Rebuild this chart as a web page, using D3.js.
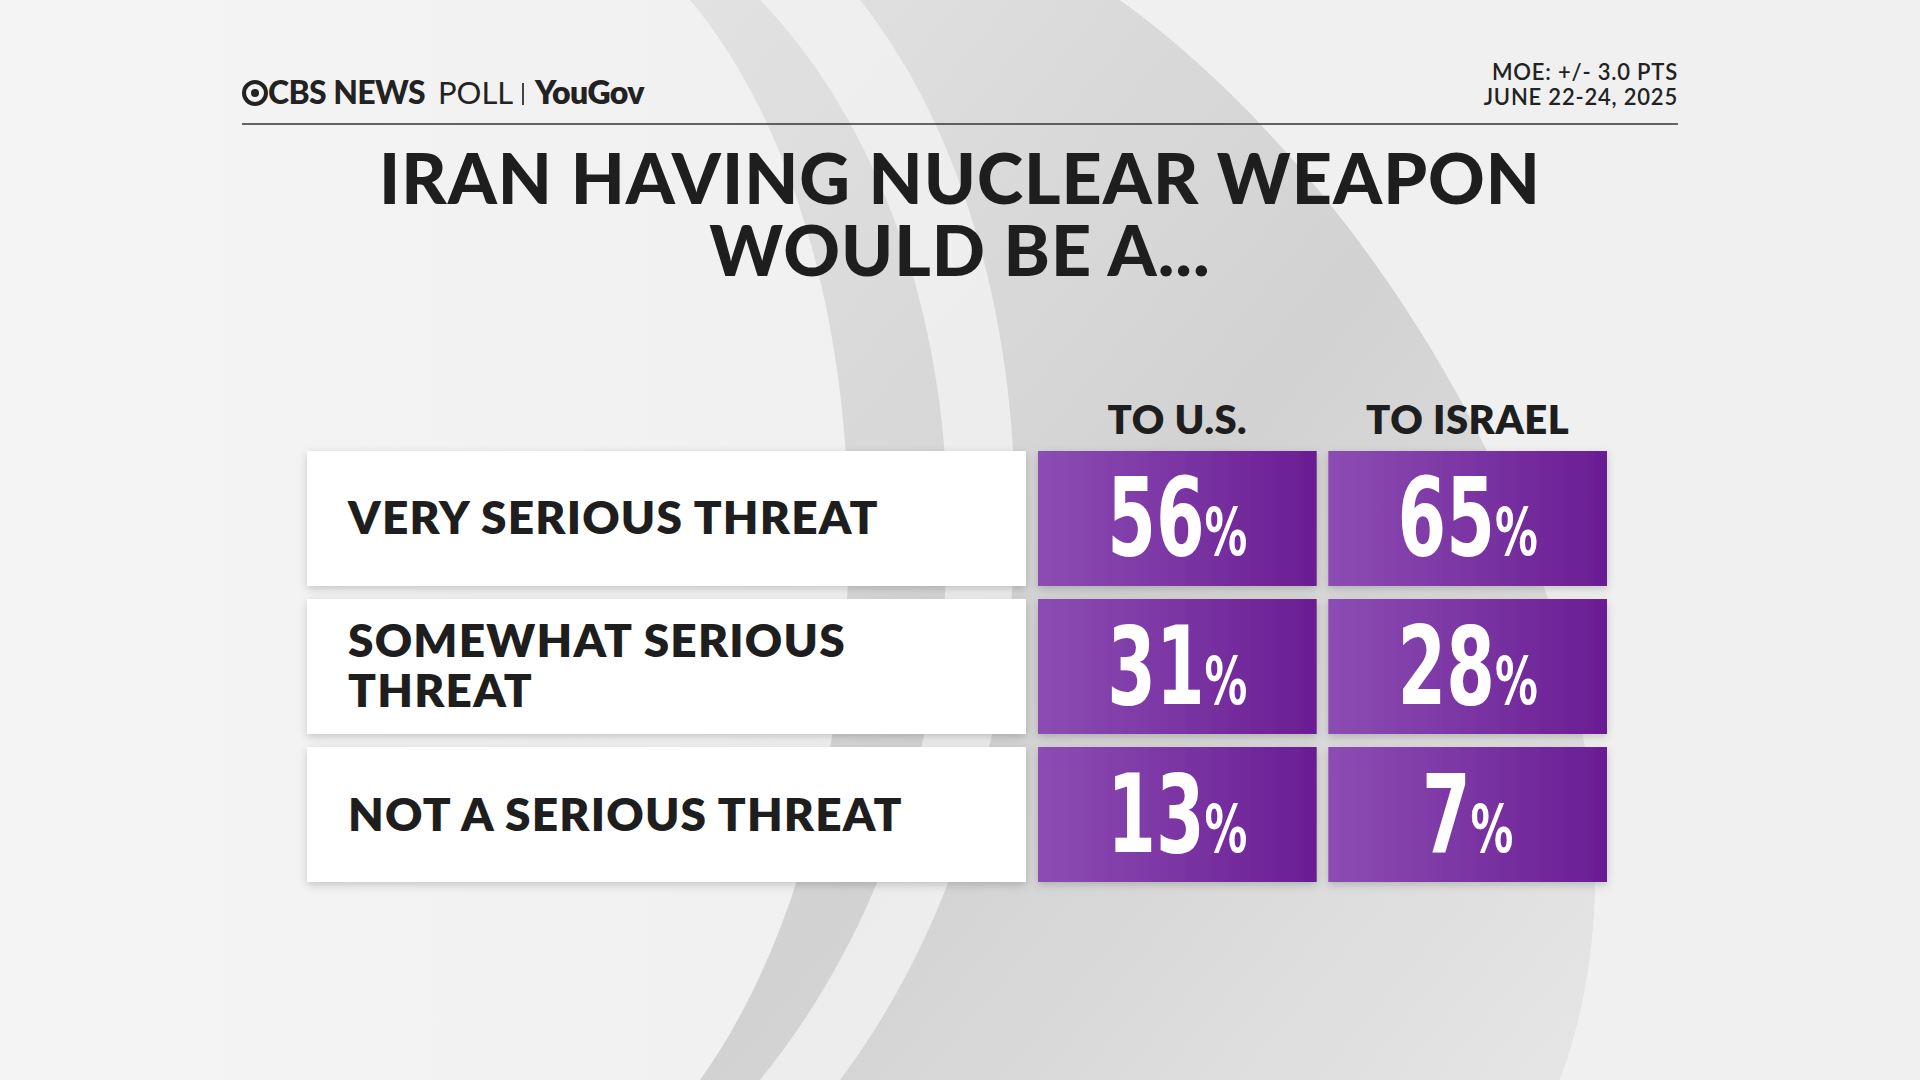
<!DOCTYPE html>
<html><head><meta charset="utf-8">
<script src="https://cdn.jsdelivr.net/npm/d3@7"></script>
<style>body{margin:0;background:#efefef;overflow:hidden}</style>
</head><body><svg id="c"></svg>
<script>
const rows = ['VERY SERIOUS THREAT', 'SOMEWHAT SERIOUS|THREAT', 'NOT A SERIOUS THREAT']
const columns = ['TO U.S.', 'TO ISRAEL']
const toUS = [56, 31, 13]
const toIsrael = [65, 28, 7]

const W = 1920, H = 1080
const svg = d3.select('#c').attr('width', W).attr('height', H)
const defs = svg.append('defs')

// background swooshes
const bg = defs.append('linearGradient').attr('id', 'bg').attr('x1', 0).attr('x2', 1)
bg.append('stop').attr('offset', 0).attr('stop-color', '#f4f4f4')
bg.append('stop').attr('offset', 1).attr('stop-color', '#ececec')
svg.append('rect').attr('width', W).attr('height', H).attr('fill', 'url(#bg)')
const sw = defs.append('linearGradient').attr('id', 'sw').attr('x1', 0).attr('x2', 1).attr('y1', 0).attr('y2', 1)
sw.append('stop').attr('offset', 0).attr('stop-color', '#e2e2e2')
sw.append('stop').attr('offset', 0.5).attr('stop-color', '#d2d2d2')
sw.append('stop').attr('offset', 1).attr('stop-color', '#e6e6e6')
svg.append('path').attr('d', 'M690,0 C900,250 900,800 700,1080 L1560,1080 C1700,700 1400,200 1120,0 Z').attr('fill', 'url(#sw)')
svg.append('path').attr('d', 'M1120,0 C1400,200 1700,700 1560,1080 L1920,1080 L1920,0 Z').attr('fill', '#f0f0f0')
svg.append('path').attr('d', 'M760,0 C1000,250 1020,760 760,1080 L840,1080 C1080,760 1060,250 860,0 Z').attr('fill', '#f3f3f3').attr('opacity', 0.8)

// header
const hdr = svg.append('g').attr('font-family', 'Lato, sans-serif').attr('fill', '#222')
hdr.append('circle').attr('cx', 255).attr('cy', 93).attr('r', 11).attr('fill', 'none').attr('stroke', '#222').attr('stroke-width', 4)
hdr.append('circle').attr('cx', 255).attr('cy', 93).attr('r', 4).attr('fill', '#222')
hdr.append('text').attr('x', 268).attr('y', 104).attr('font-size', 32).attr('font-weight', 900).attr('letter-spacing', -0.6).text('CBS NEWS')
hdr.append('text').attr('x', 438).attr('y', 104).attr('font-size', 31).attr('font-weight', 400).text('POLL')
hdr.append('rect').attr('x', 522).attr('y', 83).attr('width', 2).attr('height', 22).attr('fill', '#444')
hdr.append('text').attr('x', 535).attr('y', 104).attr('font-size', 32).attr('font-weight', 800).attr('letter-spacing', -0.6).text('YouGov')
hdr.append('text').attr('x', 1678).attr('y', 80).attr('text-anchor', 'end').attr('font-size', 22).attr('font-weight', 600).attr('letter-spacing', 0.8).text('MOE: +/- 3.0 PTS')
hdr.append('text').attr('x', 1678).attr('y', 105).attr('text-anchor', 'end').attr('font-size', 22).attr('font-weight', 600).attr('letter-spacing', 0.8).text('JUNE 22-24, 2025')
svg.append('line').attr('x1', 242).attr('x2', 1678).attr('y1', 124).attr('y2', 124).attr('stroke', '#333').attr('stroke-width', 1.5)

// title
const t = svg.append('text').attr('text-anchor', 'middle').attr('font-family', 'Lato, sans-serif').attr('font-weight', 900).attr('font-size', 70).attr('letter-spacing', 1).attr('fill', '#1e1e1e')
t.append('tspan').attr('x', 960).attr('y', 204).text('IRAN HAVING NUCLEAR WEAPON')
t.append('tspan').attr('x', 960).attr('y', 276).text('WOULD BE A...')

// table scales
const y = d3.scaleBand().domain(d3.range(rows.length)).range([451, 882]).paddingInner(0.088)
const x = d3.scaleBand().domain(columns).range([1038, 1607]).paddingInner(0.04)

const pg = defs.append('linearGradient').attr('id', 'pg').attr('x1', 0).attr('x2', 1)
pg.append('stop').attr('offset', 0).attr('stop-color', '#8c4db3')
pg.append('stop').attr('offset', 1).attr('stop-color', '#6a1d93')
const sh = defs.append('filter').attr('id', 'sh').attr('x', -0.1).attr('y', -0.1).attr('width', 1.2).attr('height', 1.3)
sh.append('feDropShadow').attr('dx', 0).attr('dy', 3).attr('stdDeviation', 4).attr('flood-opacity', 0.18)

svg.selectAll('.colh').data(columns).join('text')
  .attr('x', d => x(d) + x.bandwidth() / 2).attr('y', 434)
  .attr('text-anchor', 'middle').attr('font-family', 'Lato, sans-serif').attr('font-weight', 800)
  .attr('font-size', 40).attr('letter-spacing', 0.5).attr('fill', '#1e1e1e').text(d => d)

const row = svg.selectAll('.row').data(rows).join('g').attr('transform', (d, i) => `translate(0,${y(i)})`)
row.append('rect').attr('x', 307).attr('width', 719).attr('height', y.bandwidth()).attr('fill', '#fff').attr('filter', 'url(#sh)')
row.append('text').attr('font-family', 'Lato, sans-serif').attr('font-weight', 800).attr('font-size', 46).attr('letter-spacing', 1.2).attr('fill', '#1e1e1e')
  .each(function (d) {
    const parts = d.split('|')
    const base = y.bandwidth() / 2 + 16 - (parts.length - 1) * 25
    parts.forEach((p, k) => d3.select(this).append('tspan').attr('x', 348).attr('y', base + k * 50).text(p))
  })

const vals = [toUS, toIsrael]
columns.forEach((c, ci) => {
  row.append('rect').attr('x', x(c)).attr('width', x.bandwidth()).attr('height', y.bandwidth()).attr('fill', 'url(#pg)').attr('filter', 'url(#sh)')
  const tx = row.append('text').attr('text-anchor', 'middle').attr('fill', '#fff')
    .attr('font-family', '"Liberation Sans Narrow", "DejaVu Sans Condensed", sans-serif').attr('font-weight', 700)
    .attr('transform', `translate(${x(c) + x.bandwidth() / 2},${y.bandwidth() / 2 + 37}) scale(0.72,1)`)
  tx.append('tspan').attr('font-size', 108).text((d, i) => vals[ci][i])
  tx.append('tspan').attr('font-size', 66).text('%')
})
</script></body></html>
